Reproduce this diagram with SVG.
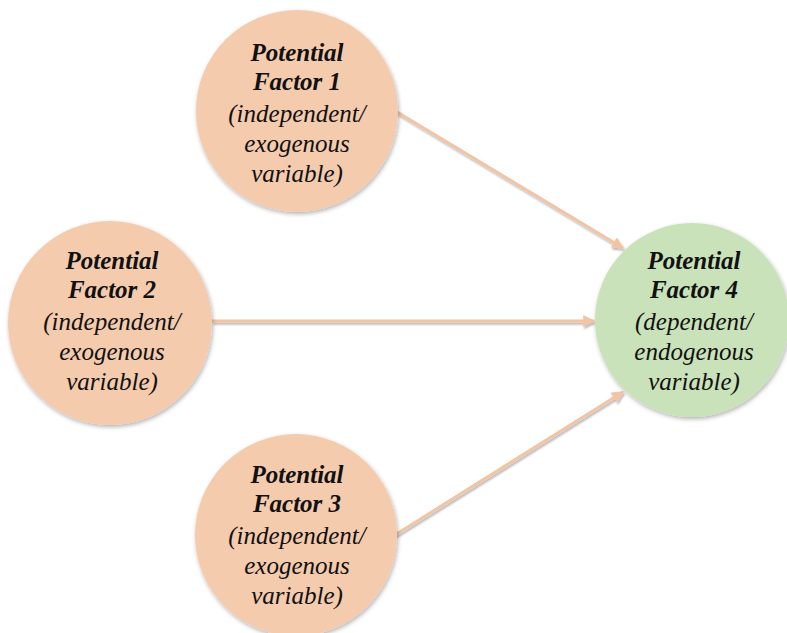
<svg xmlns="http://www.w3.org/2000/svg" width="787" height="633" viewBox="0 0 787 633">
<defs>
<filter id="sh" x="-20%" y="-20%" width="140%" height="140%">
<feDropShadow dx="1" dy="2" stdDeviation="2" flood-color="#000" flood-opacity="0.3"/>
</filter>
<filter id="lsh" x="0" y="0" width="787" height="633" filterUnits="userSpaceOnUse">
<feDropShadow dx="1" dy="2" stdDeviation="1.2" flood-color="#000" flood-opacity="0.3"/>
</filter>
<marker id="ah" viewBox="0 0 10 10" refX="9" refY="5" markerWidth="4" markerHeight="4" orient="auto" markerUnits="strokeWidth">
<path d="M0,0 L10,5 L0,10 z" fill="#F3C4A4"/>
</marker>
<style>
.ind{fill:#F5CBAE}
.dep{fill:#C9E2B9}
.c{stroke:#F3C4A4;stroke-width:3;fill:none}
</style>
</defs>
<g id="connectors" filter="url(#lsh)">
<line class="c" x1="397" y1="112" x2="623" y2="248" marker-end="url(#ah)"/>
<line class="c" x1="212" y1="321" x2="594" y2="321" marker-end="url(#ah)"/>
<line class="c" x1="395" y1="535" x2="623" y2="392" marker-end="url(#ah)"/>
</g>
<g id="factor1" fill="#111" text-anchor="middle">
<circle class="ind" cx="297" cy="111" r="101" filter="url(#sh)"/>
<text font-family="Liberation Serif, serif" font-size="25" font-style="italic" font-weight="bold" x="297" y="61">Potential</text>
<text font-family="Liberation Serif, serif" font-size="25" font-style="italic" font-weight="bold" x="297" y="90">Factor 1</text>
<text font-family="Liberation Serif, serif" font-size="25" font-style="italic" x="297" y="122">(independent/</text>
<text font-family="Liberation Serif, serif" font-size="25" font-style="italic" x="297" y="152">exogenous</text>
<text font-family="Liberation Serif, serif" font-size="25" font-style="italic" x="297" y="182">variable)</text>
</g>
<g id="factor2" fill="#111" text-anchor="middle">
<circle class="ind" cx="110" cy="323" r="102" filter="url(#sh)"/>
<text font-family="Liberation Serif, serif" font-size="25" font-style="italic" font-weight="bold" x="112" y="269">Potential</text>
<text font-family="Liberation Serif, serif" font-size="25" font-style="italic" font-weight="bold" x="112" y="298">Factor 2</text>
<text font-family="Liberation Serif, serif" font-size="25" font-style="italic" x="112" y="330">(independent/</text>
<text font-family="Liberation Serif, serif" font-size="25" font-style="italic" x="112" y="360">exogenous</text>
<text font-family="Liberation Serif, serif" font-size="25" font-style="italic" x="112" y="390">variable)</text>
</g>
<g id="factor3" fill="#111" text-anchor="middle">
<circle class="ind" cx="296" cy="535" r="101" filter="url(#sh)"/>
<text font-family="Liberation Serif, serif" font-size="25" font-style="italic" font-weight="bold" x="297" y="483">Potential</text>
<text font-family="Liberation Serif, serif" font-size="25" font-style="italic" font-weight="bold" x="297" y="512">Factor 3</text>
<text font-family="Liberation Serif, serif" font-size="25" font-style="italic" x="297" y="544">(independent/</text>
<text font-family="Liberation Serif, serif" font-size="25" font-style="italic" x="297" y="574">exogenous</text>
<text font-family="Liberation Serif, serif" font-size="25" font-style="italic" x="297" y="604">variable)</text>
</g>
<g id="factor4" fill="#111" text-anchor="middle">
<circle class="dep" cx="692" cy="320" r="97" filter="url(#sh)"/>
<text font-family="Liberation Serif, serif" font-size="25" font-style="italic" font-weight="bold" x="694" y="269">Potential</text>
<text font-family="Liberation Serif, serif" font-size="25" font-style="italic" font-weight="bold" x="694" y="298">Factor 4</text>
<text font-family="Liberation Serif, serif" font-size="25" font-style="italic" x="694" y="330">(dependent/</text>
<text font-family="Liberation Serif, serif" font-size="25" font-style="italic" x="694" y="360">endogenous</text>
<text font-family="Liberation Serif, serif" font-size="25" font-style="italic" x="694" y="390">variable)</text>
</g>
</svg>
